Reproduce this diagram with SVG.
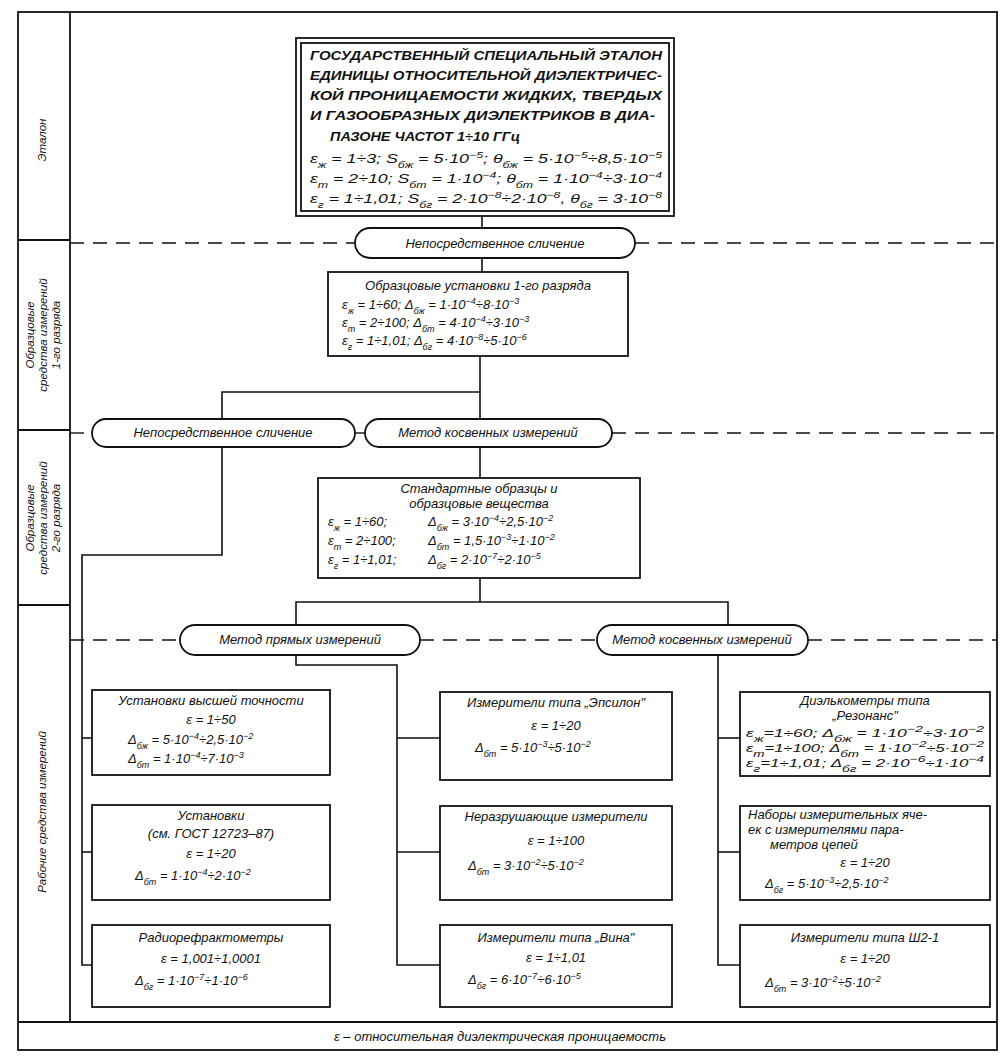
<svg xmlns="http://www.w3.org/2000/svg" width="1000" height="1056" viewBox="0 0 1000 1056">
<style>
.frame{fill:none;stroke:#111;stroke-width:1.8}
.box{fill:#fff;stroke:#111;stroke-width:1.8}
.ln{fill:none;stroke:#111;stroke-width:1.6}
.dash{fill:none;stroke:#111;stroke-width:1.4;stroke-dasharray:14 9}
text{font-family:"Liberation Sans",Arial,sans-serif;font-style:italic;fill:#111;font-size:13px}
.c{text-anchor:middle}
.cap{font-size:13px;font-weight:bold}
.lab{font-size:11.5px}
.sb{font-size:9px;baseline-shift:sub}
.sp{font-size:9px;baseline-shift:super}
</style>
<rect width="1000" height="1056" fill="#fff"/>
<!-- frame -->
<g id="frame">
<rect class="frame" x="18" y="12" width="979" height="1038"/>
<line class="frame" x1="70" y1="12" x2="70" y2="1022"/>
<line class="frame" x1="18" y1="240" x2="70" y2="240"/>
<line class="frame" x1="18" y1="430" x2="70" y2="430"/>
<line class="frame" x1="18" y1="605" x2="70" y2="605"/>
<line class="frame" x1="18" y1="1022" x2="997" y2="1022"/>
<text class="c lab" transform="translate(46,140) rotate(-90)">Эталон</text>
<text class="c lab" transform="translate(34,335) rotate(-90)">Образцовые</text>
<text class="c lab" transform="translate(47,335) rotate(-90)">средства измерений</text>
<text class="c lab" transform="translate(60,335) rotate(-90)">1-го разряда</text>
<text class="c lab" transform="translate(34,518) rotate(-90)">Образцовые</text>
<text class="c lab" transform="translate(47,518) rotate(-90)">средства измерений</text>
<text class="c lab" transform="translate(60,518) rotate(-90)">2-го разряда</text>
<text class="c lab" transform="translate(46,812) rotate(-90)">Рабочие средства измерений</text>
<text class="c" x="500" y="1041">ε – относительная диэлектрическая проницаемость</text>
</g>
<!-- connectors -->
<g id="connectors">
<line class="dash" x1="70" y1="243" x2="355" y2="243"/>
<line class="dash" x1="635" y1="243" x2="997" y2="243"/>
<line class="dash" x1="70" y1="433" x2="92" y2="433"/>
<line class="dash" x1="355" y1="433" x2="365" y2="433"/>
<line class="dash" x1="612" y1="433" x2="997" y2="433"/>
<line class="dash" x1="70" y1="640" x2="180" y2="640"/>
<line class="dash" x1="420" y1="640" x2="597" y2="640"/>
<line class="dash" x1="808" y1="640" x2="997" y2="640"/>
<polyline class="ln" points="482,216 482,228"/>
<polyline class="ln" points="482,258 482,272"/>
<polyline class="ln" points="480,356 480,392"/>
<polyline class="ln" points="222,419 222,392 480,392 480,419"/>
<polyline class="ln" points="480,447 480,478"/>
<polyline class="ln" points="222,447 222,555 82,555 82,965 92,965"/>
<line class="ln" x1="82" y1="738" x2="92" y2="738"/>
<line class="ln" x1="82" y1="852" x2="92" y2="852"/>
<polyline class="ln" points="480,578 480,602"/>
<polyline class="ln" points="296,625 296,602 728,602 728,625"/>
<polyline class="ln" points="296,655 296,665 397,665 397,965 440,965"/>
<line class="ln" x1="397" y1="738" x2="440" y2="738"/>
<line class="ln" x1="397" y1="852" x2="440" y2="852"/>
<polyline class="ln" points="718,655 718,965 740,965"/>
<line class="ln" x1="718" y1="738" x2="740" y2="738"/>
<line class="ln" x1="718" y1="852" x2="740" y2="852"/>
</g>
<!-- etalon -->
<g id="etalon">
<rect class="box" x="296" y="38" width="378" height="178"/>
<rect class="box" x="301" y="43" width="368" height="168"/>
<text class="cap" x="310" y="60" textLength="352" lengthAdjust="spacingAndGlyphs">ГОСУДАРСТВЕННЫЙ СПЕЦИАЛЬНЫЙ ЭТАЛОН</text>
<text class="cap" x="310" y="80" textLength="352" lengthAdjust="spacingAndGlyphs">ЕДИНИЦЫ ОТНОСИТЕЛЬНОЙ ДИЭЛЕКТРИЧЕС-</text>
<text class="cap" x="310" y="100" textLength="352" lengthAdjust="spacingAndGlyphs">КОЙ ПРОНИЦАЕМОСТИ ЖИДКИХ, ТВЕРДЫХ</text>
<text class="cap" x="310" y="120" textLength="345" lengthAdjust="spacingAndGlyphs">И ГАЗООБРАЗНЫХ ДИЭЛЕКТРИКОВ В ДИА-</text>
<text class="cap" x="330" y="141" textLength="190" lengthAdjust="spacingAndGlyphs">ПАЗОНЕ ЧАСТОТ 1÷10 ГГц</text>
<text x="310" y="163" textLength="352" lengthAdjust="spacingAndGlyphs">ε<tspan class="sb">ж</tspan> = 1÷3; S<tspan class="sb">бж</tspan> = 5·10<tspan class="sp">−5</tspan>; θ<tspan class="sb">бж</tspan> = 5·10<tspan class="sp">−5</tspan>÷8,5·10<tspan class="sp">−5</tspan></text>
<text x="310" y="183" textLength="352" lengthAdjust="spacingAndGlyphs">ε<tspan class="sb">т</tspan> = 2÷10; S<tspan class="sb">бт</tspan> = 1·10<tspan class="sp">−4</tspan>; θ<tspan class="sb">бт</tspan> = 1·10<tspan class="sp">−4</tspan>÷3·10<tspan class="sp">−4</tspan></text>
<text x="310" y="203" textLength="352" lengthAdjust="spacingAndGlyphs">ε<tspan class="sb">г</tspan> = 1÷1,01; S<tspan class="sb">бг</tspan> = 2·10<tspan class="sp">−8</tspan>÷2·10<tspan class="sp">−8</tspan>, θ<tspan class="sb">бг</tspan> = 3·10<tspan class="sp">−8</tspan></text>
</g>
<g id="oval1">
<rect class="box" x="355" y="228" width="280" height="30" rx="15"/>
<text class="c" x="495" y="248">Непосредственное сличение</text>
</g>
<g id="ref1">
<rect class="box" x="328" y="272" width="300" height="84"/>
<text class="c" x="478" y="290">Образцовые установки 1-го разряда</text>
<text x="342" y="309">ε<tspan class="sb">ж</tspan> = 1÷60; Δ<tspan class="sb">бж</tspan> = 1·10<tspan class="sp">−4</tspan>÷8·10<tspan class="sp">−3</tspan></text>
<text x="342" y="327">ε<tspan class="sb">т</tspan> = 2÷100; Δ<tspan class="sb">бт</tspan> = 4·10<tspan class="sp">−4</tspan>÷3·10<tspan class="sp">−3</tspan></text>
<text x="342" y="345">ε<tspan class="sb">г</tspan> = 1÷1,01; Δ<tspan class="sb">бг</tspan> = 4·10<tspan class="sp">−8</tspan>÷5·10<tspan class="sp">−6</tspan></text>
</g>
<g id="oval2">
<rect class="box" x="92" y="419" width="263" height="28" rx="14"/>
<text class="c" x="223" y="437">Непосредственное сличение</text>
</g>
<g id="oval3">
<rect class="box" x="365" y="419" width="247" height="28" rx="14"/>
<text class="c" x="488" y="437">Метод косвенных измерений</text>
</g>
<g id="ref2">
<rect class="box" x="318" y="478" width="322" height="100"/>
<text class="c" x="479" y="493">Стандартные  образцы  и</text>
<text class="c" x="479" y="508">образцовые вещества</text>
<text x="328" y="526">ε<tspan class="sb">ж</tspan> = 1÷60;</text>
<text x="428" y="526">Δ<tspan class="sb">бж</tspan> = 3·10<tspan class="sp">−4</tspan>÷2,5·10<tspan class="sp">−2</tspan></text>
<text x="328" y="545">ε<tspan class="sb">т</tspan> = 2÷100;</text>
<text x="428" y="545">Δ<tspan class="sb">бт</tspan> = 1,5·10<tspan class="sp">−3</tspan>÷1·10<tspan class="sp">−2</tspan></text>
<text x="328" y="564">ε<tspan class="sb">г</tspan> = 1÷1,01;</text>
<text x="428" y="564">Δ<tspan class="sb">бг</tspan> = 2·10<tspan class="sp">−7</tspan>÷2·10<tspan class="sp">−5</tspan></text>
</g>
<g id="oval4">
<rect class="box" x="180" y="625" width="240" height="30" rx="15"/>
<text class="c" x="300" y="644">Метод прямых измерений</text>
</g>
<g id="oval5">
<rect class="box" x="597" y="625" width="211" height="30" rx="15"/>
<text class="c" x="702" y="644">Метод косвенных измерений</text>
</g>
<g id="L1">
<rect class="box" x="92" y="690" width="238" height="85"/>
<text class="c" x="211" y="705">Установки высшей точности</text>
<text class="c" x="211" y="724">ε = 1÷50</text>
<text x="128" y="744">Δ<tspan class="sb">бж</tspan> = 5·10<tspan class="sp">−4</tspan>÷2,5·10<tspan class="sp">−2</tspan></text>
<text x="128" y="763">Δ<tspan class="sb">бт</tspan> = 1·10<tspan class="sp">−4</tspan>÷7·10<tspan class="sp">−3</tspan></text>
</g>
<g id="L2">
<rect class="box" x="92" y="805" width="238" height="95"/>
<text class="c" x="211" y="820">Установки</text>
<text class="c" x="211" y="838">(см. ГОСТ 12723–87)</text>
<text class="c" x="211" y="858">ε = 1÷20</text>
<text x="135" y="880">Δ<tspan class="sb">бт</tspan> = 1·10<tspan class="sp">−4</tspan>÷2·10<tspan class="sp">−2</tspan></text>
</g>
<g id="L3">
<rect class="box" x="92" y="925" width="238" height="82"/>
<text class="c" x="211" y="942">Радиорефрактометры</text>
<text class="c" x="211" y="963">ε = 1,001÷1,0001</text>
<text x="135" y="985">Δ<tspan class="sb">бг</tspan> = 1·10<tspan class="sp">−7</tspan>÷1·10<tspan class="sp">−6</tspan></text>
</g>
<g id="M1">
<rect class="box" x="440" y="692" width="232" height="88"/>
<text class="c" x="556" y="707">Измерители типа „Эпсилон"</text>
<text class="c" x="556" y="730">ε = 1÷20</text>
<text x="475" y="752">Δ<tspan class="sb">бт</tspan> = 5·10<tspan class="sp">−3</tspan>÷5·10<tspan class="sp">−2</tspan></text>
</g>
<g id="M2">
<rect class="box" x="440" y="806" width="232" height="94"/>
<text class="c" x="556" y="821">Неразрушающие измерители</text>
<text class="c" x="556" y="845">ε = 1÷100</text>
<text x="468" y="870">Δ<tspan class="sb">бт</tspan> = 3·10<tspan class="sp">−2</tspan>÷5·10<tspan class="sp">−2</tspan></text>
</g>
<g id="M3">
<rect class="box" x="440" y="925" width="232" height="82"/>
<text class="c" x="556" y="942">Измерители типа „Вина"</text>
<text class="c" x="556" y="962">ε = 1÷1,01</text>
<text x="468" y="984">Δ<tspan class="sb">бг</tspan> = 6·10<tspan class="sp">−7</tspan>÷6·10<tspan class="sp">−5</tspan></text>
</g>
<g id="R1">
<rect class="box" x="740" y="692" width="250" height="84"/>
<text class="c" x="865" y="705">Диэлькометры типа</text>
<text class="c" x="865" y="720">„Резонанс"</text>
<text x="746" y="737" style="font-size:11px" textLength="238" lengthAdjust="spacingAndGlyphs">ε<tspan class="sb">ж</tspan>=1÷60; Δ<tspan class="sb">бж</tspan> = 1·10<tspan class="sp">−2</tspan>÷3·10<tspan class="sp">−2</tspan></text>
<text x="746" y="752" style="font-size:11px" textLength="238" lengthAdjust="spacingAndGlyphs">ε<tspan class="sb">т</tspan>=1÷100; Δ<tspan class="sb">бт</tspan> = 1·10<tspan class="sp">−2</tspan>÷5·10<tspan class="sp">−2</tspan></text>
<text x="746" y="767" style="font-size:11px" textLength="238" lengthAdjust="spacingAndGlyphs">ε<tspan class="sb">г</tspan>=1÷1,01; Δ<tspan class="sb">бг</tspan> = 2·10<tspan class="sp">−6</tspan>÷1·10<tspan class="sp">−4</tspan></text>
</g>
<g id="R2">
<rect class="box" x="740" y="806" width="250" height="94"/>
<text x="748" y="819">Наборы измерительных яче-</text>
<text x="748" y="834">ек с измерителями пара-</text>
<text x="770" y="849">метров цепей</text>
<text class="c" x="865" y="867">ε = 1÷20</text>
<text x="765" y="888">Δ<tspan class="sb">бг</tspan> = 5·10<tspan class="sp">−3</tspan>÷2,5·10<tspan class="sp">−2</tspan></text>
</g>
<g id="R3">
<rect class="box" x="740" y="925" width="250" height="82"/>
<text class="c" x="865" y="942">Измерители типа Ш2-1</text>
<text class="c" x="865" y="963">ε = 1÷20</text>
<text x="765" y="987">Δ<tspan class="sb">бт</tspan> = 3·10<tspan class="sp">−2</tspan>÷5·10<tspan class="sp">−2</tspan></text>
</g>
</svg>
